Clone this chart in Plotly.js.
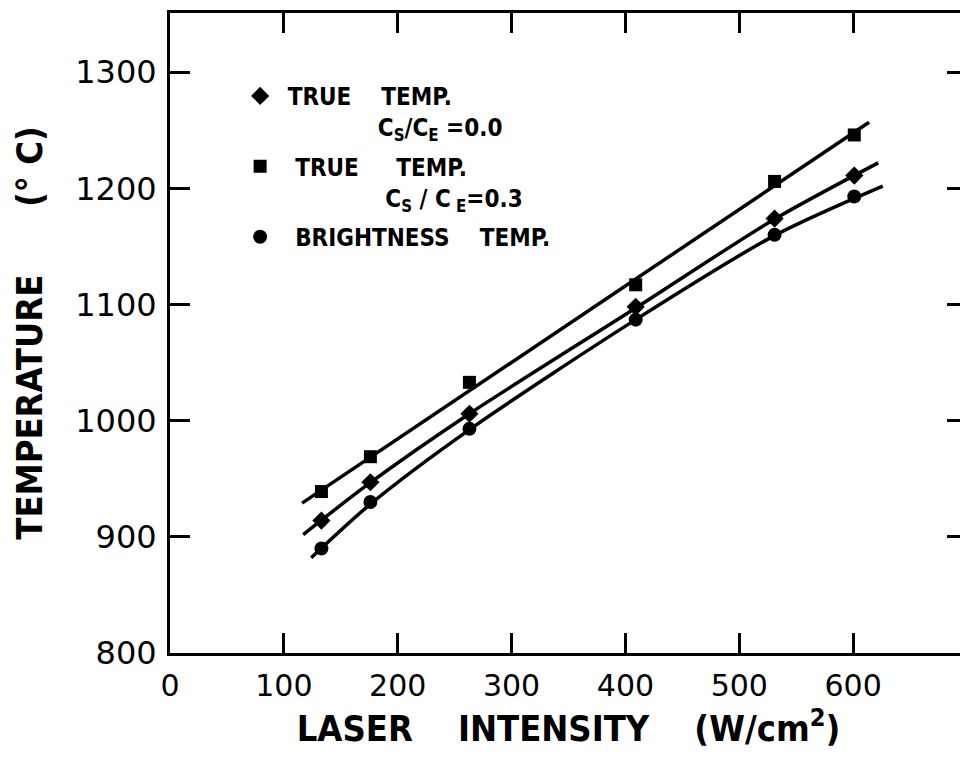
<!DOCTYPE html>
<html>
<head>
<meta charset="utf-8">
<script src="https://cdn.plot.ly/plotly-3.0.1.min.js"></script>
<style>
  html, body { margin: 0; padding: 0; background: #fff; overflow: hidden; width: 960px; height: 761px; }
  #chart { width: 975px; height: 761px; }
</style>
</head>
<body>
<div id="chart"></div>
<script>
// Measured points (laser intensity W/cm^2 vs temperature °C)
const intensity = [133, 176, 263, 409, 531, 601];
const trueTemp00 = [914, 947, 1006, 1098, 1174, 1211];   // diamonds, Cs/Ce = 0.0
const trueTemp03 = [939, 969, 1033, 1117, 1206, 1246];   // squares, Cs/Ce = 0.3
const brightTemp = [890, 930, 993, 1087, 1160, 1193];    // circles, brightness temp

// Hand-drawn fit curves
const fit00X = [117, 175, 263, 409, 530, 622];
const fit00Y = [902, 946, 1006, 1097, 1173, 1222];
const fit03X = [116, 614];
const fit03Y = [929, 1257];
const fitBX = [124, 177, 264, 409, 532, 626];
const fitBY = [882, 929, 993, 1087, 1160, 1202];

const xTicks = [0, 100, 200, 300, 400, 500, 600];
const yTicks = [800, 900, 1000, 1100, 1200, 1300];

const NB = '&nbsp;';
const sp = n => NB.repeat(n);
const legendNames = [
  sp(1) + 'TRUE' + sp(4) + 'TEMP.<br>' + sp(13) + 'C<sub>S</sub>/C<sub>E</sub> =0.0',
  sp(2) + 'TRUE' + sp(5) + 'TEMP.<br>' + sp(14) + 'C<sub>S</sub> / C<sub> E</sub>=0.3',
  sp(2) + 'BRIGHTNESS' + sp(4) + 'TEMP.'
];

const black = '#000';
const lineStyle = { color: black, width: 3.5, shape: 'spline', smoothing: 0.8 };

const traces = [
  { x: fit00X, y: fit00Y, mode: 'lines', line: lineStyle, showlegend: false, hoverinfo: 'skip' },
  { x: fit03X, y: fit03Y, mode: 'lines', line: lineStyle, showlegend: false, hoverinfo: 'skip' },
  { x: fitBX, y: fitBY, mode: 'lines', line: lineStyle, showlegend: false, hoverinfo: 'skip' },
  { x: intensity, y: trueTemp00, mode: 'markers', name: legendNames[0], legendgroup: 'a',
    marker: { symbol: 'diamond', size: 14, color: black } },
  { x: intensity, y: trueTemp03, mode: 'markers', name: legendNames[1], legendgroup: 'b',
    marker: { symbol: 'square', size: 13, color: black } },
  { x: intensity, y: brightTemp, mode: 'markers', name: legendNames[2], legendgroup: 'c',
    marker: { symbol: 'circle', size: 14, color: black } }
];

const xTickFont = { family: 'DejaVu Sans, sans-serif', size: 30, color: black };
const yTickFont = { family: 'DejaVu Sans, sans-serif', size: 32, color: black };
const titleFont = { family: 'DejaVu Sans Condensed, Liberation Sans, sans-serif', size: 36, color: black, weight: 'bold' };

const layout = {
  width: 975, height: 761,
  margin: { l: 170, r: 8, t: 13, b: 108, pad: 0 },
  paper_bgcolor: '#fff', plot_bgcolor: '#fff',
  showlegend: true,
  legend: {
    x: 0.088, y: 0.905, xanchor: 'left', yanchor: 'top',
    bgcolor: 'rgba(0,0,0,0)', borderwidth: 0,
    valign: 'top', tracegroupgap: 5,
    font: { family: 'DejaVu Sans Condensed, Liberation Sans, sans-serif', size: 24, color: black, weight: 'bold' }
  },
  xaxis: {
    range: [0, 700], tickvals: xTicks, ticktext: xTicks.map(String),
    showgrid: false, zeroline: false,
    showline: true, linecolor: black, linewidth: 3, mirror: 'ticks',
    ticks: 'inside', ticklen: 20, tickwidth: 3, tickcolor: black,
    tickfont: xTickFont, ticklabelstandoff: 4,
    title: { text: 'LASER' + sp(4) + 'INTENSITY' + sp(4) + '(W/cm<sup>2</sup>)', font: titleFont, standoff: 4 },
    automargin: false
  },
  yaxis: {
    range: [800, 1351], tickvals: yTicks, ticktext: yTicks.map(String),
    showgrid: false, zeroline: false,
    showline: true, linecolor: black, linewidth: 3, mirror: 'ticks',
    ticks: 'inside', ticklen: 20, tickwidth: 3, tickcolor: black,
    tickfont: yTickFont, ticklabelstandoff: 4,
    title: { text: 'TEMPERATURE' + sp(6) + '(° C)', font: titleFont, standoff: 22 },
    automargin: false
  }
};

Plotly.newPlot('chart', traces, layout, { staticPlot: true, displayModeBar: false });
</script>
</body>
</html>
